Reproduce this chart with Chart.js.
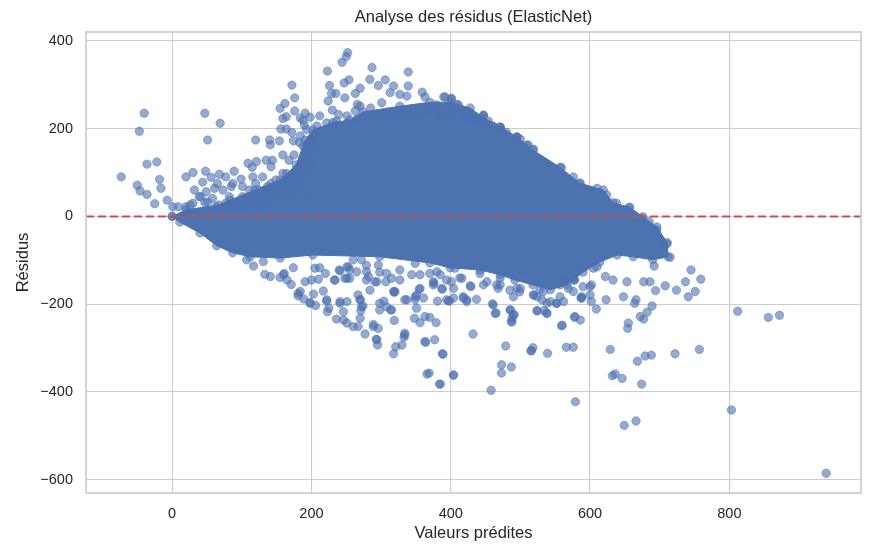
<!DOCTYPE html>
<html>
<head>
<meta charset="utf-8">
<title>Analyse des résidus (ElasticNet)</title>
<script src="https://cdn.jsdelivr.net/npm/chart.js@4.4.1/dist/chart.umd.min.js"></script>
<style>
  html, body { margin: 0; padding: 0; background: #ffffff; }
  #residus-chart { display: block; }
</style>
</head>
<body>
<canvas id="residus-chart" width="874" height="548"></canvas>
<script>
// Axis limits and ticks
const xMin = -123.6, xMax = 989;
const yMin = -630, yMax = 420;
const xTicks = [0, 200, 400, 600, 800];
const yTicks = [-600, -400, -200, 0, 200, 400];
const chartTitle = 'Analyse des résidus (ElasticNet)';

// Outline of the saturated core of the cloud, [predicted, residual]
const denseCore = [
  [0,0],[20,15],[67,26],[83,37],[119,60],[155,83],[178,117],[191,174],[202,197],[231,214],
  [255,219],[274,238],[327,251],[370,260],[399,260],[428,247],[446,226],[471,204],[495,181],
  [518,151],[557,112],[585,76],[619,60],[633,31],[657,21],[676,-1],[696,-24],[711,-60],
  [712,-92],[690,-99],[662,-92],[639,-88],[614,-104],[590,-127],[567,-156],[543,-167],
  [518,-156],[492,-145],[471,-133],[442,-122],[399,-117],[370,-106],[298,-92],[202,-88],
  [155,-95],[112,-92],[87,-83],[64,-67],[40,-38],[11,-13],[0,0]
];

// Individual points around the core
const farLeftPoints = [
  [-73,90],[-40,235],[-47,194],[-36,119],[-22,124],[-18,84],[-50,71],[-46,58],[-36,50],
  [-16,64],[-25,29],[-7,37],[1,22],[9,22],[47,235],[69,212],[51,174]
];

const upperLeftPoints = [
  [20,90],[30,100],[48,103],[44,78],[56,89],[68,96],[77,90],[89,103],[99,85],[32,60],[39,45],
  [61,64],[73,60],[85,68],[58,41],[82,45],[101,45],[111,60],[109,121],[115,112],[120,174],
  [121,125],[130,90],[140,174],[141,163],[154,172],[135,128],[144,128],[142,113],[159,140],
  [168,128],[175,140],[154,68],[142,75],[120,75],[172,299],[176,270],[162,257],[155,246],
  [176,240],[159,223],[164,227],[156,199],[164,199],[172,191],[174,172],[183,168],[191,235],
  [188,219],[190,208],[192,151],[183,113],[185,90],[164,98],[26,26],[47,31],[90,31],[126,26],
  [141,49],[155,42],[172,78],[133,60],
  [20,22],[30,30],[41,45],[51,33],[63,22],[77,30],[87,18],[96,33],[106,22],[116,37],[125,22],
  [135,37],[144,53],[154,37],[164,60],[173,45],[183,68],[192,53],[202,75],[125,60],[137,68],
  [149,83],[159,98],[168,83],[178,106],[188,98],[197,113],[202,128],[192,136],[116,90],
  [101,68],[87,75],[65,75],[49,56]
];

const upperMidPoints = [
  [252,373],[250,364],[244,351],[223,331],[287,339],[339,329],[284,312],[306,311],[254,311],
  [247,304],[226,298],[296,298],[270,292],[318,297],[339,297],[235,280],[229,280],[263,280],
  [248,270],[224,263],[359,283],[363,272],[390,272],[401,267],[409,255],[380,254],[373,247],
  [327,278],[337,274],[313,282],[301,259],[266,255],[270,251],[263,240],[285,247],[339,238],
  [351,232],[418,236],[447,230],[454,217],[471,202],[495,181],[509,162],[432,221],[184,224],
  [198,226],[212,229],[230,242],[239,232],[251,229],[193,149],[188,130],[203,183],[198,168],
  [205,160],
  [193,198],[208,206],[222,213],[236,217],[251,212],[265,221],[279,229],[294,232],[308,235],
  [322,229],[337,221],[366,240],[385,229],[399,232],[423,221],[442,213],[461,206],[480,191],
  [500,176],[184,183],[188,160]
];

const upperRightPoints = [
  [392,272],[401,269],[411,254],[447,231],[471,203],[495,180],[511,163],[519,153],[538,119],
  [559,111],[576,90],[586,75],[610,64],[624,49],[638,30],[656,20],[674,-4],[685,-12],[696,-31],
  [704,-69],[710,-63],[715,-93]
];

const lowerRightPoints = [
  [692,-113],[745,-122],[759,-143],[737,-149],[724,-168],[708,-158],[694,-169],[677,-149],
  [686,-149],[653,-149],[633,-145],[622,-137],[610,-115],[578,-145],[590,-160],[600,-160],
  [648,-183],[751,-171],[741,-183],[689,-204],[682,-218],[672,-228],[677,-234],[666,-190],
  [664,-198],[655,-243],[654,-255],[623,-190],[609,-211],[602,-194],[588,-186],[578,-228],
  [586,-236],[560,-248],[538,-220],[524,-215],[534,-215],[487,-240],[488,-232],[491,-224],
  [485,-213],[465,-220],[460,-199],[432,-268],[479,-295],[516,-306],[518,-299],[539,-312],
  [566,-298],[576,-298],[629,-303],[668,-330],[679,-318],[688,-316],[722,-313],[757,-303],
  [812,-216],[856,-230],[872,-225],[473,-338],[487,-343],[473,-357],[458,-396],[404,-362],
  [389,-314],[385,-382],[579,-422],[632,-363],[636,-359],[646,-369],[674,-382],[649,-476],
  [666,-466],[803,-441],[939,-585]
];

const lowerLeftPoints = [
  [133,-132],[141,-137],[155,-139],[161,-130],[165,-145],[171,-155],[131,-103],[117,-113],
  [107,-99],[184,-171],[181,-181],[191,-149],[200,-145],[189,-188],[203,-177],[198,-196],
  [206,-203],[217,-170],[210,-143],[222,-193],[223,-217],[225,-209],[233,-145],[241,-124],
  [251,-141],[253,-115],[241,-194],[246,-217],[246,-236],[236,-234],[251,-243],[251,-194],
  [260,-251],[267,-251],[270,-232],[271,-215],[270,-190],[267,-179],[274,-204],[277,-268],
  [284,-168],[289,-246],[296,-255],[293,-280],[295,-293],[279,-126],[291,-149],[307,-149],
  [318,-171],[304,-193],[308,-206],[314,-213],[319,-237],[327,-122],[334,-190],[334,-266],
  [333,-275],[330,-293],[321,-297],[318,-313],[349,-190],[351,-209],[355,-166],[348,-232],
  [356,-242],[363,-228],[370,-230],[379,-242],[364,-287],[377,-281],[388,-313],[366,-359],
  [369,-357],[384,-382],[404,-361],[381,-193],[397,-193],[404,-186],[418,-186],[388,-166],
  [376,-152],[404,-164],[429,-160],[319,-173],[349,-183],[398,-192],[423,-194],[437,-189],
  [428,-158],[464,-221],[486,-213],[490,-224],[488,-240],[515,-306],[524,-215],[538,-221],
  [559,-249],[578,-230],[587,-186],[577,-145],[552,-198],[298,-213],[315,-213],[289,-251],
  [294,-281],[334,-270],[363,-285],[272,-206],[279,-145],[375,-149],[387,-164],[468,-164],
  [495,-164],[519,-179],[531,-190],[557,-183],[562,-194],[298,-127],[356,-133],[413,-140],
  [471,-156],[528,-167],[557,-156],[499,-172],[385,-133],[327,-145],[255,-122],[212,-117]
];

// Band just under the core, between 150 and 600
const lowerBandPoints = [
  [160,-133],[174,-117],[205,-118],[220,-130],[234,-145],[240,-122],[248,-141],[251,-115],
  [255,-141],[260,-99],[265,-126],[272,-99],[279,-112],[282,-137],[294,-149],[296,-111],
  [308,-130],[315,-141],[320,-171],[337,-190],[344,-133],[349,-107],[351,-179],[356,-164],
  [370,-130],[380,-126],[394,-145],[401,-149],[406,-118],[416,-141],[418,-183],[442,-130],
  [452,-149],[461,-202],[466,-156],[490,-183],[500,-164],[507,-126],[524,-183],[533,-171],
  [543,-194],[562,-141],[569,-164],[576,-141],[588,-183],[590,-115],[602,-156],[605,-118],
  [181,-175],[198,-198],[222,-190],[241,-198],[270,-190],[298,-198],[361,-186],[375,-156],
  [394,-190],[423,-190],[447,-156],[471,-141],[485,-168],[519,-179],[538,-198],[552,-198],
  [576,-171],[600,-179]
];

const toXY = pairs => pairs.map(([x, y]) => ({ x, y }));

const pointBlue = 'rgba(76, 114, 176, 0.6)';
const pointEdge = 'rgba(76, 114, 176, 0.6)';
const solidBlue = 'rgb(76, 114, 176)';
const textColor = '#262626';
const gridColor = '#cccccc';
const fontFamily = '"Liberation Sans", Arial, sans-serif';

const fmtTick = v => (v < 0 ? '\u2212' + Math.abs(v) : String(v));

// spines on all four sides + title centred over the plot area (matplotlib style)
const frame = {
  id: 'frame',
  afterDatasetsDraw(chart) {
    const { ctx, chartArea: a } = chart;
    ctx.save();
    ctx.strokeStyle = gridColor;
    ctx.lineWidth = 1.7;
    ctx.strokeRect(a.left, a.top, a.right - a.left, a.bottom - a.top);
    ctx.fillStyle = textColor;
    ctx.font = '16.5px ' + fontFamily;
    ctx.textAlign = 'center';
    ctx.textBaseline = 'middle';
    ctx.fillText(chartTitle, (a.left + a.right) / 2, 17);
    ctx.restore();
  }
};

const allPoints = [].concat(
  farLeftPoints, upperLeftPoints, upperMidPoints, upperRightPoints,
  lowerRightPoints, lowerLeftPoints, lowerBandPoints
);

new Chart(document.getElementById('residus-chart'), {
  type: 'scatter',
  data: {
    datasets: [
      {
        type: 'line',
        data: [{ x: xMin, y: 0 }, { x: xMax, y: 0 }],
        borderColor: '#c44e52',
        borderWidth: 2,
        borderDash: [8, 4],
        pointRadius: 0,
        fill: false,
        order: 0
      },
      {
        data: toXY(allPoints),
        backgroundColor: pointBlue,
        borderColor: pointEdge,
        borderWidth: 0.8,
        pointRadius: 4.2,
        order: 1
      },
      {
        type: 'line',
        data: toXY(denseCore),
        borderColor: solidBlue,
        backgroundColor: solidBlue,
        borderWidth: 1,
        tension: 0,
        fill: 'shape',
        pointRadius: 4.2,
        pointBackgroundColor: pointBlue,
        pointBorderColor: pointEdge,
        pointBorderWidth: 0.8,
        order: 2
      }
    ]
  },
  options: {
    responsive: false,
    animation: false,
    devicePixelRatio: 1,
    layout: { padding: { left: 0, right: 13, top: 32, bottom: 0 } },
    plugins: {
      legend: { display: false },
      tooltip: { enabled: false },
      title: { display: false }
    },
    scales: {
      x: {
        type: 'linear',
        min: xMin,
        max: xMax,
        afterBuildTicks: s => { s.ticks = xTicks.map(v => ({ value: v })); },
        afterFit: s => { s.height = 55; },
        grid: { color: gridColor, lineWidth: 1.1, drawTicks: false },
        border: { display: false },
        ticks: { padding: 12, color: textColor, font: { family: fontFamily, size: 14.5 }, callback: fmtTick },
        title: {
          display: true,
          text: 'Valeurs prédites',
          color: textColor,
          font: { family: fontFamily, size: 16.5 },
          padding: { top: 0, bottom: 5 }
        }
      },
      y: {
        type: 'linear',
        min: yMin,
        max: yMax,
        afterBuildTicks: s => { s.ticks = yTicks.map(v => ({ value: v })); },
        afterFit: s => { s.width = 86; },
        grid: { color: gridColor, lineWidth: 1.1, drawTicks: false },
        border: { display: false },
        ticks: { padding: 13, color: textColor, font: { family: fontFamily, size: 14.5 }, callback: fmtTick },
        title: {
          display: true,
          text: 'Résidus',
          color: textColor,
          font: { family: fontFamily, size: 16.5 },
          padding: { top: 14, bottom: 0 }
        }
      }
    }
  },
  plugins: [frame]
});
</script>
</body>
</html>
